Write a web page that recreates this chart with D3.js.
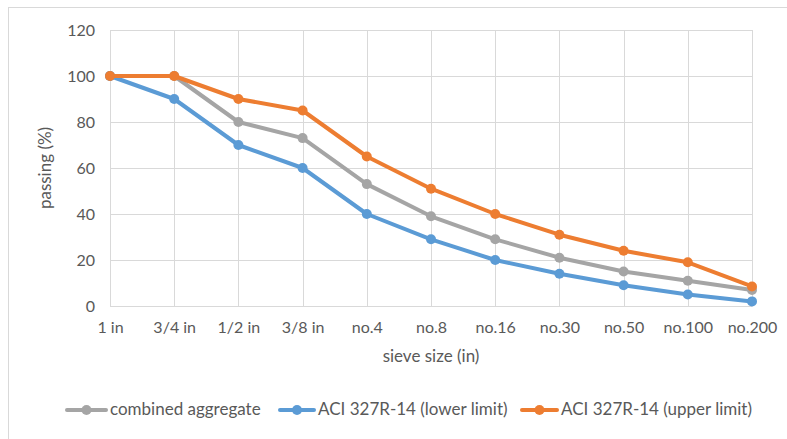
<!DOCTYPE html>
<html>
<head>
<meta charset="utf-8">
<script src="https://cdn.jsdelivr.net/npm/d3@7/dist/d3.min.js"></script>
<style>
  html, body { margin: 0; padding: 0; background: #fff; }
  svg { display: block; }
  text { font-family: Lato, "Open Sans", sans-serif; fill: #595959; }
</style>
</head>
<body>
<svg id="chart" width="787" height="439"></svg>
<script>
const categories = ["1 in", "3/4 in", "1/2 in", "3/8 in", "no.4", "no.8", "no.16", "no.30", "no.50", "no.100", "no.200"];
const combinedAggregate = [100, 100, 80, 73, 53, 39, 29, 21, 15, 11, 7];
const lowerLimit = [100, 90, 70, 60, 40, 29, 20, 14, 9, 5, 2];
const upperLimit = [100, 100, 90, 85, 65, 51, 40, 31, 24, 19, 8.5];
const yTicks = [0, 20, 40, 60, 80, 100, 120];
const seriesNames = ["combined aggregate", "ACI 327R-14 (lower limit)", "ACI 327R-14 (upper limit)"];
const seriesColors = ["#A5A5A5", "#5B9BD5", "#ED7D31"];

const series = [
  { name: seriesNames[0], color: seriesColors[0], values: combinedAggregate },
  { name: seriesNames[1], color: seriesColors[1], values: lowerLimit },
  { name: seriesNames[2], color: seriesColors[2], values: upperLimit }
];

const svg = d3.select("#chart");

// chart frame
svg.append("rect").attr("x", 8.5).attr("y", 7.5).attr("width", 800).attr("height", 460)
  .attr("fill", "none").attr("stroke", "#D9D9D9").attr("stroke-width", 1);

const plot = { left: 110, top: 30, right: 752, bottom: 306 };

const x = d3.scalePoint().domain(categories).range([plot.left, plot.right]).padding(0);
const y = d3.scaleLinear().domain([0, 120]).range([plot.bottom, plot.top]);

const grid = svg.append("g");
grid.selectAll("line.h").data(yTicks).join("line")
  .attr("x1", plot.left).attr("x2", plot.right)
  .attr("y1", d => Math.round(y(d)) + 0.5).attr("y2", d => Math.round(y(d)) + 0.5)
  .attr("stroke", "#D9D9D9").attr("stroke-width", 1);
grid.selectAll("line.v").data(categories).join("line")
  .attr("x1", d => Math.round(x(d)) + 0.5).attr("x2", d => Math.round(x(d)) + 0.5)
  .attr("y1", plot.top).attr("y2", plot.bottom)
  .attr("stroke", "#D9D9D9").attr("stroke-width", 1);

// y axis
const yAxis = svg.append("g").attr("transform", `translate(${plot.left},0)`)
  .call(d3.axisLeft(y).tickValues(yTicks).tickSize(0).tickPadding(15));
yAxis.select(".domain").remove();
yAxis.selectAll("text").style("font-size", "16px").attr("fill", "#595959");

// x axis
const xAxis = svg.append("g").attr("transform", `translate(0,${plot.bottom})`)
  .call(d3.axisBottom(x).tickSize(0).tickPadding(16));
xAxis.select(".domain").attr("stroke", "#D9D9D9");
xAxis.selectAll("text").style("font-size", "16px").attr("fill", "#595959");

// axis titles
svg.append("text").attr("transform", "translate(47,168) rotate(-90)")
  .attr("text-anchor", "middle").attr("dominant-baseline", "middle")
  .style("font-size", "17px").text("passing (%)");
svg.append("text").attr("x", 431).attr("y", 358)
  .attr("text-anchor", "middle").attr("dominant-baseline", "middle")
  .style("font-size", "17px").text("sieve size (in)");

// lines
const line = d3.line().x((d, i) => x(categories[i])).y(d => y(d));
const sg = svg.append("g");
series.forEach(s => {
  sg.append("path").datum(s.values).attr("d", line)
    .attr("fill", "none").attr("stroke", s.color).attr("stroke-width", 4)
    .attr("stroke-linejoin", "round").attr("stroke-linecap", "round");
  sg.selectAll(null).data(s.values).join("circle")
    .attr("cx", (d, i) => x(categories[i])).attr("cy", d => y(d))
    .attr("r", 5).attr("fill", s.color);
});

// legend
const legendItems = [
  { x: 65, tx: 110 },
  { x: 278, tx: 318 },
  { x: 520, tx: 561 }
];
const lg = svg.append("g");
series.forEach((s, i) => {
  const it = legendItems[i];
  const cy = 410;
  lg.append("line").attr("x1", it.x + 2).attr("x2", it.tx - 4).attr("y1", cy).attr("y2", cy)
    .attr("stroke", s.color).attr("stroke-width", 4).attr("stroke-linecap", "round");
  lg.append("circle").attr("cx", (it.x + it.tx - 2) / 2).attr("cy", cy).attr("r", 5).attr("fill", s.color);
  lg.append("text").attr("x", it.tx).attr("y", cy + 1).attr("dominant-baseline", "middle")
    .style("font-size", "17px").text(s.name);
});
</script>
</body>
</html>
